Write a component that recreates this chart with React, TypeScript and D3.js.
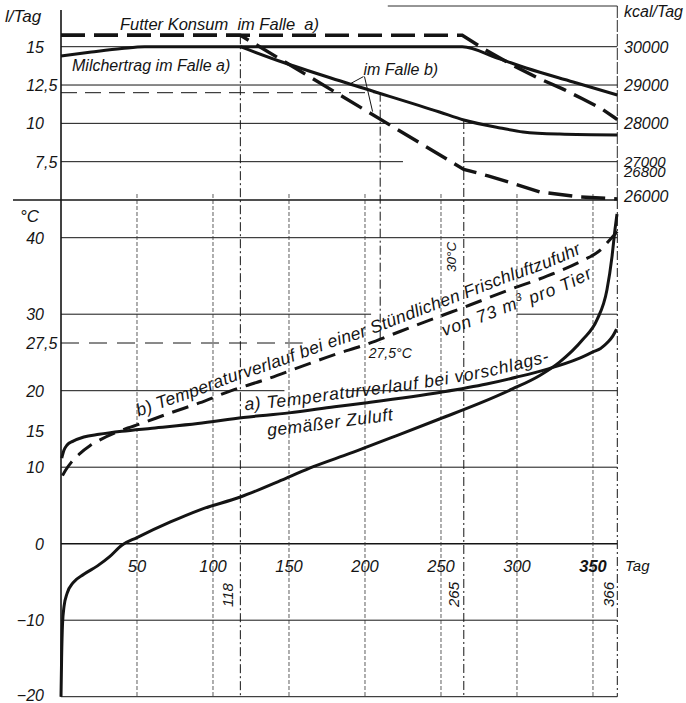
import React from "react";
import * as d3 from "d3";

// ---------- data ----------
const dayTicks = [50, 100, 150, 200, 250, 300, 350];
const markerDays = [118, 265, 366];
const milkTicks = [15, 12.5, 10, 7.5];
const kcalTicks = [30000, 29000, 28000, 27000, 26800, 26000];
const tempTicks = [40, 30, 27.5, 20, 15, 10, 0, -10, -20];

// Futter Konsum (kcal/Tag)
const feedA: [number, number][] = [
  [0, 30300], [264, 30300], [277, 29970], [297, 29520], [315, 29160],
  [330, 28900], [343, 28640], [355, 28400], [366, 28100],
];
const feedB: [number, number][] = [
  [0, 30300], [118, 30300], [265, 26800], [281, 26630], [297, 26440],
  [315, 26210], [341, 26080], [366, 26030],
];
// Milchertrag (l/Tag)
const milkA: [number, number][] = [
  [0, 14.4], [20, 14.65], [40, 14.88], [55, 15], [264, 15], [287, 14.26],
  [306, 13.61], [337, 12.7], [366, 11.85],
];
const milkB: [number, number][] = [
  [118, 15], [144, 14.05], [188, 12.63], [249, 10.74], [265, 10.22],
  [289, 9.7], [304, 9.44], [328, 9.3], [366, 9.24],
];
// Temperaturverlauf (°C)
const tempA: [number, number][] = [
  [0.5, 11.2], [2, 12.25], [4, 12.9], [8, 13.4], [15, 13.95], [25, 14.3],
  [40, 14.7], [60, 15.1], [90, 15.7], [120, 16.5], [150, 17.1], [180, 17.9],
  [200, 18.4], [250, 19.8], [280, 21.05], [300, 22.15], [320, 23.4],
  [340, 25.0], [350, 26.1], [355, 26.65], [360, 27.6], [363, 28.1], [365.5, 28.7],
];
const tempB: [number, number][] = [
  [1, 8.9], [3, 9.6], [7, 10.7], [12, 11.7], [19, 12.8], [26, 13.6],
  [37, 14.6], [54, 15.8], [72, 17.1], [91, 18.4], [113, 20.1], [135, 21.8],
  [157, 23.7], [179, 25.6], [201, 27.3], [223, 28.5], [249, 29.8],
  [269, 31.2], [295, 33.2], [320, 35.0], [343, 37.0], [355, 38.4],
  [361, 39.7], [366, 40.8],
];
const tempOut: [number, number][] = [
  [0, -20], [0.4, -15], [1, -10.5], [2, -8.2], [4, -6.5], [8, -5.1],
  [15, -4.0], [24, -2.9], [32, -1.7], [40, -0.2], [50, 0.8], [72, 2.84],
  [91, 4.4], [118, 6.1], [148, 8.55], [166, 10.07], [190, 11.8], [223, 14.3],
  [249, 16.3], [276, 18.4], [297, 20.27], [315, 22.4], [328, 24.5],
  [343, 27.76], [352.6, 29.5], [359.2, 33.2], [362.5, 37.5], [364.5, 41.1],
  [365.8, 43.1],
];

// grid spans [value, fromDay, toDay]
const milkGrid: [number, number, number][] = [
  [15, 0, 366], [12.5, 0, 366], [10, 0, 366], [7.5, 0, 225], [7.5, 265, 366],
];
const milkDashed: [number, number, number][] = [[12, 0, 210]];
const tempGrid: [number, number, number][] = [
  [40, 0, 366], [30, 0, 204], [30, 300, 366], [20, 0, 147], [20, 187, 366],
  [10, 0, 366], [0, 0, 366], [-10, 0, 366], [-20, 0, 366],
];
const tempDashed: [number, number, number][] = [[27.5, 0, 159]];

const FONT = "'Liberation Sans', Arial, Helvetica, sans-serif";
const INK = "#141414";

function interp(s: [number, number][], d: number): number {
  if (d <= s[0][0]) return s[0][1];
  for (let i = 1; i < s.length; i++) {
    if (d <= s[i][0]) {
      const [d0, v0] = s[i - 1];
      const [d1, v1] = s[i];
      return v0 + ((v1 - v0) * (d - d0)) / (d1 - d0);
    }
  }
  return s[s.length - 1][1];
}

const fmt = (v: number) => {
  const s = String(Math.abs(v)).replace(".", ",");
  const [i, f] = s.split(",");
  return { int: (v < 0 ? "\u2212" : "") + i, frac: f ? "," + f : "" };
};

export default function App() {
  const x = d3.scaleLinear().domain([0, 366]).range([61, 617.3]);
  const yMilk = d3.scaleLinear().domain([5, 15]).range([200, 46.7]);
  const yKcal = d3.scaleLinear().domain([26000, 30000]).range([200, 46.7]);
  const yTemp = d3
    .scaleLinear()
    .domain([-20, 20, 27.5, 30, 40])
    .range([696.7, 390.7, 343, 314.2, 237.7]);

  const X0 = x(0);
  const X1 = x(366);
  const Ysep = yMilk(5);
  const Ybot = yTemp(-20);

  const mk = (ys: any, curve: any) =>
    d3
      .line<[number, number]>()
      .x((p) => x(p[0]))
      .y((p) => ys(p[1]))
      .curve(curve);

  const along = (s: [number, number][], ys: any, d0: number, d1: number, dy: number) => {
    const pts: [number, number][] = [
      [d0, interp(s, d0)],
      ...s.filter((p) => p[0] > d0 && p[0] < d1),
      [d1, interp(s, d1)],
    ];
    return d3
      .line<[number, number]>()
      .x((p) => x(p[0]))
      .y((p) => ys(p[1]) + dy)
      .curve(d3.curveMonotoneX)(pts) as string;
  };

  const txt = { fontFamily: FONT, fontStyle: "italic" as const, fill: INK };

  // pointer for "im Falle b)"
  const ptrFrom: [number, number] = [x(199), yMilk(13.05)];
  const ptrMilk: [number, number] = [x(190), yMilk(interp(milkB, 190))];
  const ptrFeed: [number, number] = [x(205), yKcal(interp(feedB, 205)) - 3];

  return (
    <svg
      width={686}
      height={703}
      style={{ position: "absolute", left: 0, top: 0, background: "#fff" }}
    >
      <rect x={0} y={0} width={686} height={703} fill="#fff" />
      <defs>
        <path id="lblB" d={along(tempB, yTemp, 51, 366, -8)} />
        <path id="lblB2" d={along(tempB, yTemp, 252, 366, 22)} />
        <path id="lblA" d={along(tempA, yTemp, 121, 366, -7)} />
        <path id="lblA2" d={along(tempA, yTemp, 136, 366, 21)} />
      </defs>

      {/* ---------- frame ---------- */}
      <line x1={X0} x2={X0} y1={10} y2={Ybot} stroke={INK} strokeWidth={1.6} />
      <line x1={13} x2={X1} y1={Ysep} y2={Ysep} stroke={INK} strokeWidth={1.3} />
      <line x1={x(215)} x2={X1} y1={6} y2={6} stroke={INK} strokeWidth={0.9} />
      <line x1={X1} x2={X1} y1={6} y2={Ysep} stroke={INK} strokeWidth={0.9} strokeDasharray="12 2" />

      {/* ---------- upper grid ---------- */}
      {milkGrid.map(([v, a, b], i) => (
        <line key={"mg" + i} x1={x(a)} x2={x(b)} y1={yMilk(v)} y2={yMilk(v)} stroke={INK} strokeWidth={1} />
      ))}
      {milkDashed.map(([v, a, b], i) => (
        <line key={"md" + i} x1={x(a)} x2={x(b)} y1={yMilk(v)} y2={yMilk(v)} stroke={INK} strokeWidth={1} strokeDasharray="16 8" />
      ))}

      {/* ---------- lower grid ---------- */}
      {tempGrid.map(([v, a, b], i) => (
        <line key={"tg" + i} x1={x(a)} x2={x(b)} y1={yTemp(v)} y2={yTemp(v)} stroke={INK} strokeWidth={v === 0 ? 1.6 : 1} />
      ))}
      {tempDashed.map(([v, a, b], i) => (
        <line key={"td" + i} x1={x(a)} x2={x(b)} y1={yTemp(v)} y2={yTemp(v)} stroke={INK} strokeWidth={1} strokeDasharray="18 10" />
      ))}
      {dayTicks.map((d) => (
        <line key={"dv" + d} x1={x(d)} x2={x(d)} y1={Ysep - 6} y2={Ybot} stroke="#333" strokeWidth={0.8} strokeDasharray="4 2" />
      ))}

      {/* marker lines */}
      <line x1={x(118)} x2={x(118)} y1={yKcal(30300)} y2={Ybot} stroke={INK} strokeWidth={1} strokeDasharray="9 3 2 3" />
      <line x1={x(210)} x2={x(210)} y1={yMilk(12)} y2={yTemp(27.5)} stroke={INK} strokeWidth={1} strokeDasharray="9 3 2 3" />
      <line x1={x(265)} x2={x(265)} y1={yMilk(interp(milkB, 265))} y2={Ybot} stroke={INK} strokeWidth={1} strokeDasharray="9 3 2 3" />
      <line x1={X1} x2={X1} y1={Ysep} y2={Ybot} stroke={INK} strokeWidth={1} strokeDasharray="9 3 2 3" />

      {/* ---------- upper curves ---------- */}
      <path d={mk(yKcal, d3.curveLinear)(feedA) as string} fill="none" stroke={INK} strokeWidth={3.4} strokeDasharray="24 9" />
      <path d={mk(yKcal, d3.curveLinear)(feedB) as string} fill="none" stroke={INK} strokeWidth={3.4} strokeDasharray="24 9" />
      <path d={mk(yMilk, d3.curveMonotoneX)(milkA) as string} fill="none" stroke={INK} strokeWidth={3} />
      <path d={mk(yMilk, d3.curveMonotoneX)(milkB) as string} fill="none" stroke={INK} strokeWidth={3} />

      {/* pointers */}
      <line x1={ptrFrom[0]} y1={ptrFrom[1]} x2={ptrMilk[0]} y2={ptrMilk[1]} stroke={INK} strokeWidth={1} />
      <line x1={ptrFrom[0] + 1} y1={ptrFrom[1]} x2={ptrFeed[0]} y2={ptrFeed[1]} stroke={INK} strokeWidth={1} />

      {/* ---------- lower curves ---------- */}
      <path d={mk(yTemp, d3.curveMonotoneX)(tempOut) as string} fill="none" stroke={INK} strokeWidth={3} />
      <path d={mk(yTemp, d3.curveMonotoneX)(tempA) as string} fill="none" stroke={INK} strokeWidth={3} />
      <path d={mk(yTemp, d3.curveMonotoneX)(tempB) as string} fill="none" stroke={INK} strokeWidth={3} strokeDasharray="17 9" />

      {/* ---------- axis labels ---------- */}
      <text x={5} y={22} fontSize={17} {...txt}>l/Tag</text>
      <text x={624} y={17} fontSize={16} {...txt}>kcal/Tag</text>
      <text x={20} y={222} fontSize={17} {...txt}>°C</text>
      <text x={625} y={571} fontSize={15} {...txt}>Tag</text>

      {milkTicks.map((v) => {
        const f = fmt(v);
        return (
          <g key={"ml" + v}>
            <text x={44} y={yMilk(v) + 6} fontSize={16} textAnchor="end" {...txt}>{f.int}</text>
            {f.frac && <text x={44} y={yMilk(v) + 6} fontSize={16} {...txt}>{f.frac}</text>}
          </g>
        );
      })}
      {kcalTicks.map((v) => {
        const small = v === 27000 || v === 26800;
        const dy = v === 27000 ? 5 : v === 26800 ? 8 : v === 26000 ? 2 : 6;
        return (
          <text key={"kl" + v} x={624} y={yKcal(v) + dy} fontSize={small ? 15 : 16} {...txt}>
            {String(v)}
          </text>
        );
      })}
      {tempTicks.map((v) => {
        const f = fmt(v);
        const yy = yTemp(v) + (v === 15 ? 8 : v === -20 ? 4 : 6);
        return (
          <g key={"tl" + v}>
            <text x={44} y={yy} fontSize={16} textAnchor="end" {...txt}>{f.int}</text>
            {f.frac && <text x={44} y={yy} fontSize={16} {...txt}>{f.frac}</text>}
          </g>
        );
      })}
      {dayTicks.map((d) => (
        <text
          key={"dl" + d}
          x={x(d)}
          y={yTemp(0) + 28}
          fontSize={16.5}
          textAnchor="middle"
          fontWeight={d === 350 ? "bold" : "normal"}
          {...txt}
        >
          {d}
        </text>
      ))}
      {markerDays.map((d) => (
        <text
          key={"mk" + d}
          transform={`translate(${x(d) - (d === 118 ? 7 : d === 265 ? 5 : 3)},607) rotate(-90)`}
          fontSize={15}
          {...txt}
        >
          {d}
        </text>
      ))}

      {/* ---------- annotations ---------- */}
      <text x={120} y={30} fontSize={16.5} {...txt} style={{ whiteSpace: "pre" }}>
        {"Futter Konsum  im Falle  a)"}
      </text>
      <text x={72} y={71} fontSize={16} {...txt}>Milchertrag im Falle a)</text>
      <text x={x(199)} y={yMilk(13.15)} fontSize={16} {...txt}>im Falle b)</text>

      <text x={x(202.5)} y={yTemp(25.1)} fontSize={14} {...txt}>27,5°C</text>
      <text transform={`translate(${x(265) - 8},272) rotate(-90)`} fontSize={13.5} {...txt}>30°C</text>

      <text fontSize={17.5} letterSpacing={0.3} {...txt}>
        <textPath href="#lblB">b) Temperaturverlauf bei einer Stündlichen Frischluftzufuhr</textPath>
      </text>
      <text fontSize={17.5} letterSpacing={1} {...txt}>
        <textPath href="#lblB2">
          von 73 m<tspan dy={-7} fontSize={11}>3</tspan>
          <tspan dy={7}> pro Tier</tspan>
        </textPath>
      </text>
      <text fontSize={17.5} letterSpacing={0.7} {...txt}>
        <textPath href="#lblA">a) Temperaturverlauf bei vorschlags-</textPath>
      </text>
      <text fontSize={17.5} letterSpacing={0.6} {...txt}>
        <textPath href="#lblA2">gemäßer Zuluft</textPath>
      </text>
    </svg>
  );
}
